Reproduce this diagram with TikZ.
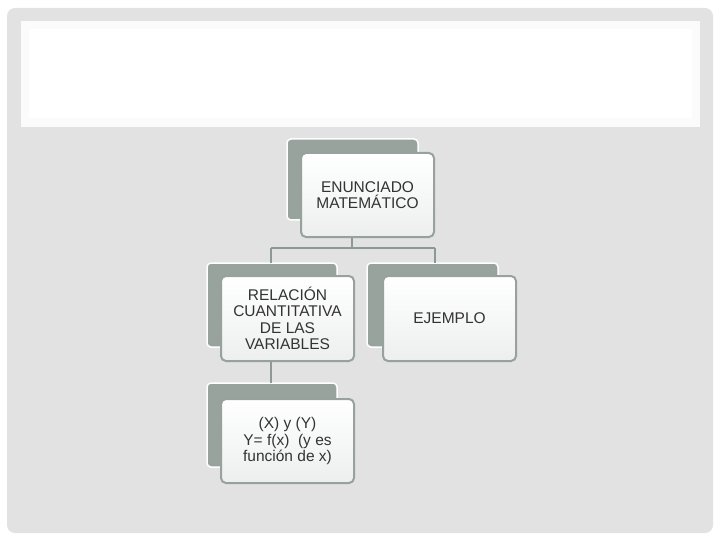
\documentclass[tikz,border=0pt]{standalone}
\usepackage{fontspec}
\setmainfont{Liberation Sans}
\begin{document}
\begin{tikzpicture}[x=1pt,y=-1pt,
  backbox/.style={draw=white,line width=1.5pt,fill=backgray,rounded corners=4pt},
  frontbox/.style={draw=bordergray,line width=2pt,rounded corners=5pt,top color=white,bottom color=frontbot},
  lbl/.style={align=center,font=\fontsize{15.5}{16.5}\selectfont,text=black!80},
  conn/.style={draw=conngray,line width=2.8pt}]
\definecolor{backgray}{HTML}{97A39C}
\definecolor{bordergray}{HTML}{98A29D}
\definecolor{frontbot}{HTML}{EDEFEE}
\definecolor{conngray}{HTML}{8D9992}
\definecolor{pagegray}{HTML}{E2E2E2}
\useasboundingbox (0,0) rectangle (720,540);
\fill[white] (0,0) rectangle (720,540);
\fill[pagegray,rounded corners=8pt] (7,8) rectangle (713,533);
\fill[white!97!gray] (21,21) rectangle (700,127);
\fill[white] (29,29) rectangle (692,118);
% junction coordinates
\coordinate (j) at (352,248);
\coordinate (jl) at (271,248);
\coordinate (jr) at (435,248);
% top
\draw[backbox] (287,139) rectangle (418,220);
\node[frontbox,minimum width=133pt,minimum height=84pt,anchor=north west] (top) at (300,152) {};
\node[lbl] at (top.center) {ENUNCIADO\\MATEMÁTICO};
% left
\draw[backbox] (207,263) rectangle (337,347);
\node[frontbox,minimum width=133pt,minimum height=85pt,anchor=north west] (rel) at (220,275) {};
\node[lbl] at (rel.center) {RELACIÓN\\CUANTITATIVA\\DE LAS\\VARIABLES};
% right
\draw[backbox] (367,263) rectangle (498,347);
\node[frontbox,minimum width=133pt,minimum height=85pt,anchor=north west] (ej) at (382,275) {};
\node[lbl] at (ej.center) {EJEMPLO};
% bottom
\draw[backbox] (207,383) rectangle (337,467);
\node[frontbox,minimum width=133pt,minimum height=84pt,anchor=north west] (xy) at (220,398) {};
\node[lbl] at (xy.center) {(X) y (Y)\\Y= f(x)\ \ (y es\\función de x)};
% connectors
\draw[conn] (top.south -| j) -- (j);
\draw[conn] (jl) -- (jr);
\draw[conn] (jl) -- (jl |- 0,263);
\draw[conn] (jr) -- (jr |- 0,263);
\draw[conn] (rel.south -| jl) -- (jl |- 0,383);
\end{tikzpicture}
\end{document}
